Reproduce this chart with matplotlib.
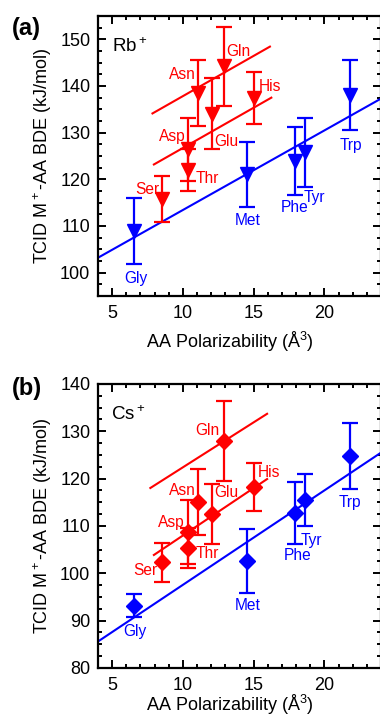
import matplotlib
matplotlib.use("Agg")
import matplotlib.pyplot as plt
import numpy as np
from matplotlib.ticker import MultipleLocator

plt.rcParams['font.family'] = ['Liberation Sans', 'DejaVu Sans']
plt.rcParams['mathtext.fontset'] = 'custom'
plt.rcParams['mathtext.rm'] = 'Liberation Sans'
plt.rcParams['mathtext.it'] = 'Liberation Sans:italic'
plt.rcParams['mathtext.bf'] = 'Liberation Sans:bold'
plt.rcParams['mathtext.default'] = 'regular'

# ---- data ----
aa_red = ['Ser', 'Thr', 'Asp', 'Asn', 'Glu', 'Gln', 'His']
pol_red = [8.55, 10.35, 10.35, 11.1, 12.05, 12.9, 15.05]
aa_blue = ['Gly', 'Met', 'Phe', 'Tyr', 'Trp']
pol_blue = [6.55, 14.5, 17.9, 18.65, 21.8]

rb_red = [115.8, 122.0, 126.4, 138.5, 134.1, 144.2, 137.4]
rb_red_err = [4.9, 4.4, 6.7, 7.1, 7.7, 8.5, 5.6]
rb_blue = [108.9, 121.1, 123.9, 125.8, 138.1]
rb_blue_err = [7.0, 7.0, 7.3, 7.4, 7.5]

cs_red = [102.3, 105.3, 108.7, 115.1, 112.5, 128.0, 118.2]
cs_red_err = [4.1, 4.2, 6.7, 6.9, 6.4, 8.5, 5.1]
cs_blue = [93.2, 102.6, 112.8, 115.4, 124.8]
cs_blue_err = [2.4, 6.7, 6.5, 5.5, 6.9]

# linear fits: (slope, intercept, xmin, xmax)
rb_fit_blue = (1.705, 96.38, 4.0, 24.0)
rb_fit_red_hi = (1.725, 120.58, 7.85, 16.15)
rb_fit_red_lo = (1.725, 109.47, 7.95, 16.25)
cs_fit_blue = (1.995, 77.62, 4.0, 24.0)
cs_fit_red_hi = (1.90, 103.4, 7.7, 15.95)
cs_fit_red_lo = (2.005, 87.94, 7.95, 15.95)

# ---- layout: label positions (data coords, centers) ----
rb_lab = {'Gln': (13.91, 147.3), 'Asn': (9.96, 142.5), 'His': (16.13, 139.8),
          'Asp': (9.23, 129.1), 'Glu': (13.08, 128.2), 'Thr': (11.76, 120.2),
          'Ser': (7.49, 117.9), 'Gly': (6.65, 98.8), 'Met': (14.58, 111.1),
          'Phe': (17.87, 113.9), 'Tyr': (19.28, 116.1), 'Trp': (21.9, 127.3)}
cs_lab = {'Gln': (11.73, 130.1), 'Asn': (9.93, 117.6), 'Glu': (13.06, 117.0),
          'His': (16.06, 121.3), 'Asp': (9.15, 110.7), 'Thr': (11.76, 104.1),
          'Ser': (7.36, 100.7), 'Gly': (6.62, 87.8), 'Met': (14.58, 93.1),
          'Phe': (18.13, 103.7), 'Tyr': (19.1, 107.0), 'Trp': (21.83, 114.9)}

RED = '#ff0000'
BLUE = '#0000ff'

W, H = 380, 719
fig = plt.figure(figsize=(W / 100, H / 100), dpi=100)

def px_axes(left, top, right, bottom):
    return fig.add_axes([left / W, 1 - bottom / H, (right - left) / W, (bottom - top) / H])

ax_a = px_axes(98, 16, 381, 296)
ax_b = px_axes(98, 384, 381, 668)

def style(ax, ylim, ymajor, xlab_y, xlab_va):
    ax.set_xlim(4, 24)
    ax.set_ylim(*ylim)
    ax.xaxis.set_major_locator(MultipleLocator(5))
    ax.xaxis.set_minor_locator(MultipleLocator(1))
    ax.yaxis.set_major_locator(MultipleLocator(ymajor))
    ax.yaxis.set_minor_locator(MultipleLocator(2.5))
    for s in ax.spines.values():
        s.set_linewidth(1.6)
    ax.tick_params(which='both', direction='in', top=True, right=True, width=1.4, labelsize=13)
    ax.tick_params(which='major', length=6)
    ax.tick_params(which='minor', length=3)
    ax.tick_params(axis='x', pad=6.5)
    ax.tick_params(axis='y', pad=5.5)
    ax.set_xlabel('AA Polarizability (Å$^3$)', fontsize=13)
    ax.set_ylabel('TCID M$^+$-AA BDE (kJ/mol)', fontsize=13)
    ax.xaxis.set_label_coords((230 - 98) / 283, xlab_y)
    ax.xaxis.label.set_va(xlab_va)
    ax.yaxis.set_label_coords((43 - 98) / 283, 0.5)
    ax.yaxis.label.set_va('center')

def fitline(ax, fit, color):
    m, b, x0, x1 = fit
    xs = np.array([x0, x1])
    ax.plot(xs, m * xs + b, color=color, lw=1.5, zorder=2)

def draw(ax, red, red_err, blue, blue_err, fits, marker, ms, labs):
    for f, c in zip(fits, [BLUE, RED, RED]):
        fitline(ax, f, c)
    ax.errorbar(pol_red, red, yerr=red_err, fmt=marker, color=RED, ms=ms,
                elinewidth=1.6, capsize=5.5, capthick=1.6, zorder=3)
    ax.errorbar(pol_blue, blue, yerr=blue_err, fmt=marker, color=BLUE, ms=ms,
                elinewidth=1.6, capsize=5.5, capthick=1.6, zorder=3)
    for name in aa_red:
        x, y = labs[name]
        ax.text(x, y, name, color=RED, fontsize=11.2, ha='center', va='center')
    for name in aa_blue:
        x, y = labs[name]
        ax.text(x, y, name, color=BLUE, fontsize=11.2, ha='center', va='center')

style(ax_a, (95, 155), 10, -0.163, 'center')
draw(ax_a, rb_red, rb_red_err, rb_blue, rb_blue_err,
     [rb_fit_blue, rb_fit_red_hi, rb_fit_red_lo], 'v', 9.5, rb_lab)
ax_a.text(5.0, 148.5, 'Rb$^+$', fontsize=13.5, ha='left', va='center')

style(ax_b, (80, 140), 10, -(717 - 668) / 284, 'bottom')
draw(ax_b, cs_red, cs_red_err, cs_blue, cs_blue_err,
     [cs_fit_blue, cs_fit_red_hi, cs_fit_red_lo], 'D', 8, cs_lab)
ax_b.text(4.93, 133.5, 'Cs$^+$', fontsize=13.5, ha='left', va='center')

fig.text(12 / W, 1 - 28 / H, '(a)', fontsize=17, fontweight='bold', ha='left', va='center')
fig.text(12 / W, 1 - 388 / H, '(b)', fontsize=17, fontweight='bold', ha='left', va='center')

fig.savefig('out.png', dpi=100)
